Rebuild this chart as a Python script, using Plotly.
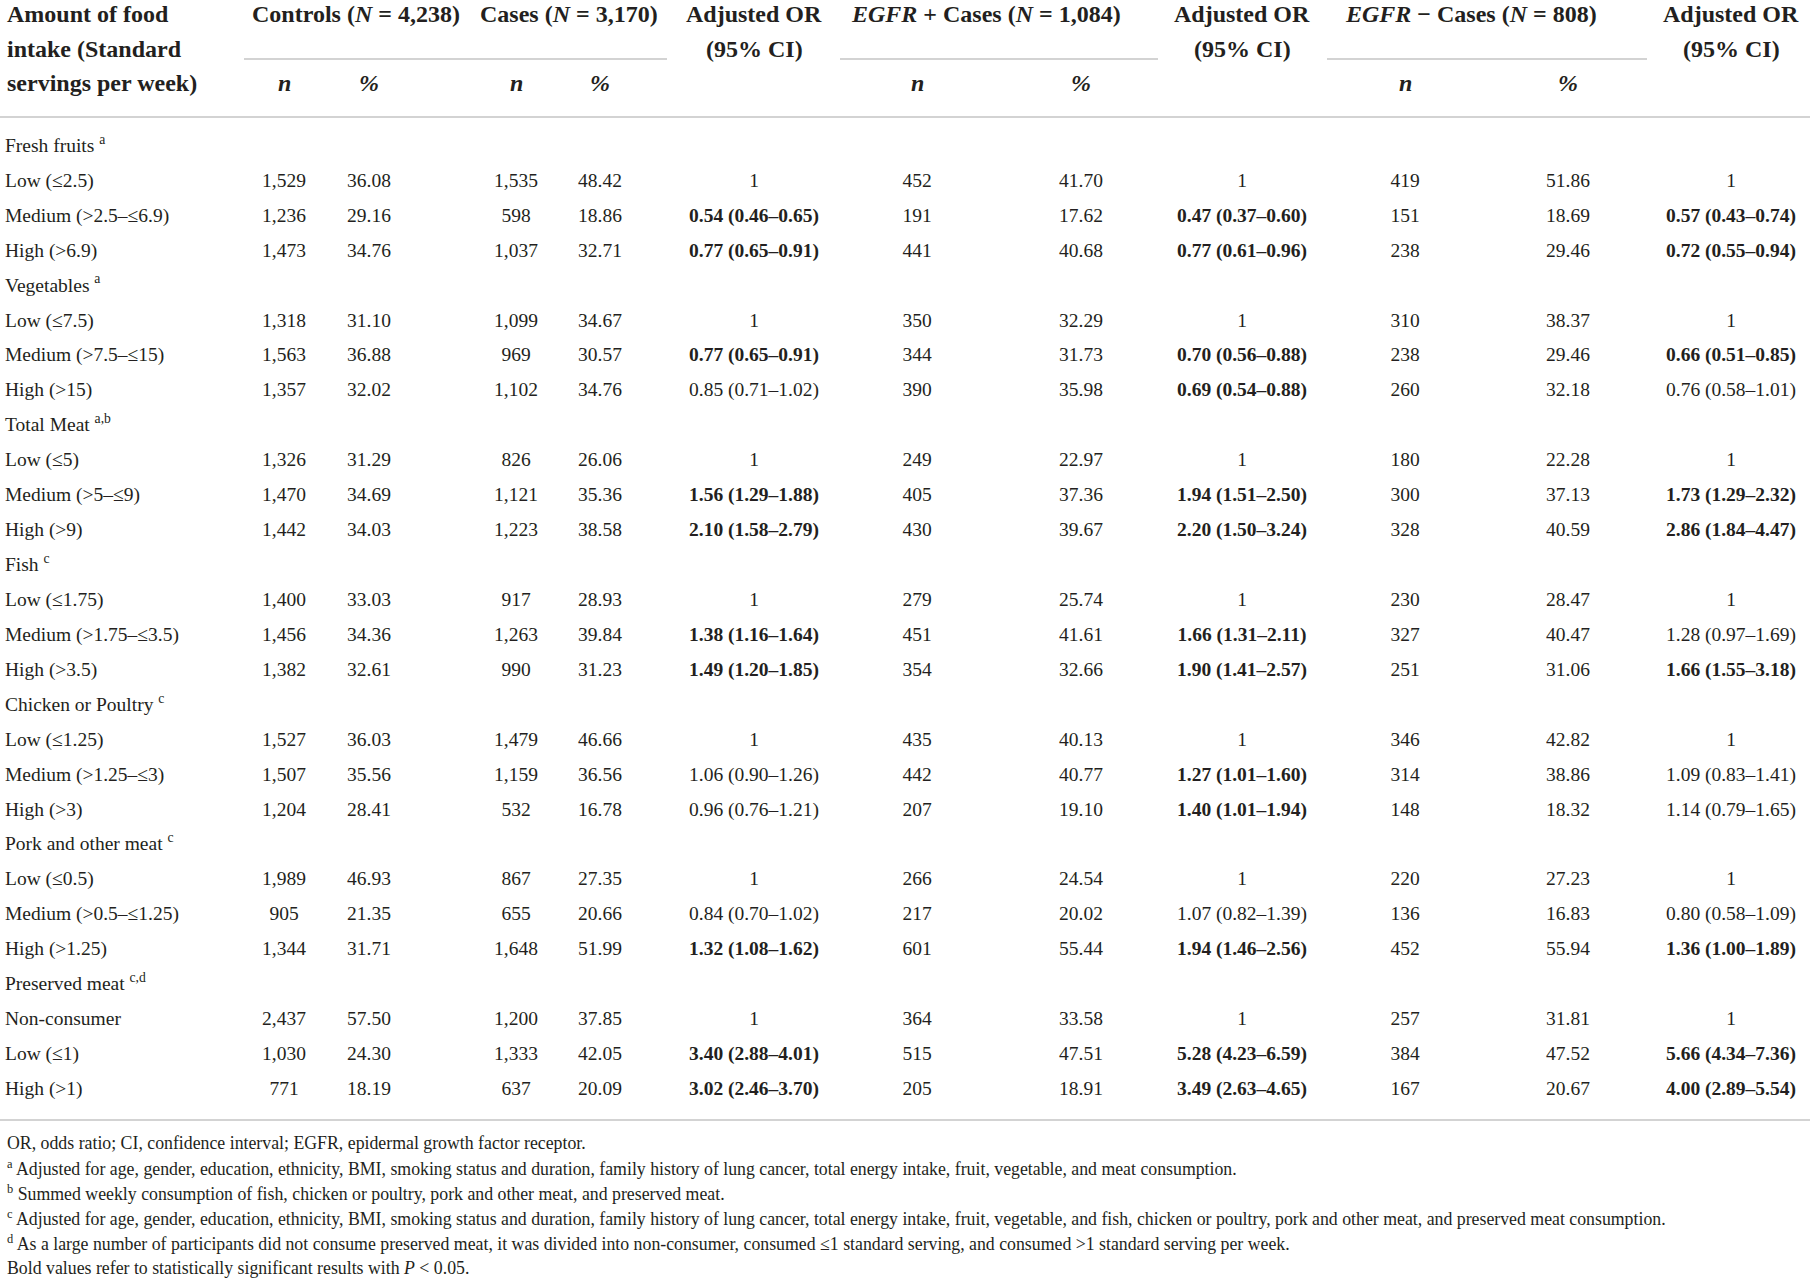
import plotly.graph_objects as go

# ---------------- data ----------------
row_labels = [
    "Fresh fruits <sup>a</sup>", "Low (≤2.5)", "Medium (>2.5–≤6.9)", "High (>6.9)",
    "Vegetables <sup>a</sup>", "Low (≤7.5)", "Medium (>7.5–≤15)", "High (>15)",
    "Total Meat <sup>a,b</sup>", "Low (≤5)", "Medium (>5–≤9)", "High (>9)",
    "Fish <sup>c</sup>", "Low (≤1.75)", "Medium (>1.75–≤3.5)", "High (>3.5)",
    "Chicken or Poultry <sup>c</sup>", "Low (≤1.25)", "Medium (>1.25–≤3)", "High (>3)",
    "Pork and other meat <sup>c</sup>", "Low (≤0.5)", "Medium (>0.5–≤1.25)", "High (>1.25)",
    "Preserved meat <sup>c,d</sup>", "Non-consumer", "Low (≤1)", "High (>1)",
]
# rows that are group titles (no values)
group_rows = [0, 4, 8, 12, 16, 20, 24]

controls_n = ["1,529", "1,236", "1,473", "1,318", "1,563", "1,357", "1,326", "1,470", "1,442",
              "1,400", "1,456", "1,382", "1,527", "1,507", "1,204", "1,989", "905", "1,344",
              "2,437", "1,030", "771"]
controls_pct = ["36.08", "29.16", "34.76", "31.10", "36.88", "32.02", "31.29", "34.69", "34.03",
                "33.03", "34.36", "32.61", "36.03", "35.56", "28.41", "46.93", "21.35", "31.71",
                "57.50", "24.30", "18.19"]
cases_n = ["1,535", "598", "1,037", "1,099", "969", "1,102", "826", "1,121", "1,223",
           "917", "1,263", "990", "1,479", "1,159", "532", "867", "655", "1,648",
           "1,200", "1,333", "637"]
cases_pct = ["48.42", "18.86", "32.71", "34.67", "30.57", "34.76", "26.06", "35.36", "38.58",
             "28.93", "39.84", "31.23", "46.66", "36.56", "16.78", "27.35", "20.66", "51.99",
             "37.85", "42.05", "20.09"]
or_all = ["1", "0.54 (0.46–0.65)", "0.77 (0.65–0.91)", "1", "0.77 (0.65–0.91)", "0.85 (0.71–1.02)",
          "1", "1.56 (1.29–1.88)", "2.10 (1.58–2.79)", "1", "1.38 (1.16–1.64)", "1.49 (1.20–1.85)",
          "1", "1.06 (0.90–1.26)", "0.96 (0.76–1.21)", "1", "0.84 (0.70–1.02)", "1.32 (1.08–1.62)",
          "1", "3.40 (2.88–4.01)", "3.02 (2.46–3.70)"]
sig_all = [0, 1, 1, 0, 1, 0, 0, 1, 1, 0, 1, 1, 0, 0, 0, 0, 0, 1, 0, 1, 1]

egfrp_n = ["452", "191", "441", "350", "344", "390", "249", "405", "430", "279", "451", "354",
           "435", "442", "207", "266", "217", "601", "364", "515", "205"]
egfrp_pct = ["41.70", "17.62", "40.68", "32.29", "31.73", "35.98", "22.97", "37.36", "39.67",
             "25.74", "41.61", "32.66", "40.13", "40.77", "19.10", "24.54", "20.02", "55.44",
             "33.58", "47.51", "18.91"]
or_egfrp = ["1", "0.47 (0.37–0.60)", "0.77 (0.61–0.96)", "1", "0.70 (0.56–0.88)", "0.69 (0.54–0.88)",
            "1", "1.94 (1.51–2.50)", "2.20 (1.50–3.24)", "1", "1.66 (1.31–2.11)", "1.90 (1.41–2.57)",
            "1", "1.27 (1.01–1.60)", "1.40 (1.01–1.94)", "1", "1.07 (0.82–1.39)", "1.94 (1.46–2.56)",
            "1", "5.28 (4.23–6.59)", "3.49 (2.63–4.65)"]
sig_egfrp = [0, 1, 1, 0, 1, 1, 0, 1, 1, 0, 1, 1, 0, 1, 1, 0, 0, 1, 0, 1, 1]

egfrn_n = ["419", "151", "238", "310", "238", "260", "180", "300", "328", "230", "327", "251",
           "346", "314", "148", "220", "136", "452", "257", "384", "167"]
egfrn_pct = ["51.86", "18.69", "29.46", "38.37", "29.46", "32.18", "22.28", "37.13", "40.59",
             "28.47", "40.47", "31.06", "42.82", "38.86", "18.32", "27.23", "16.83", "55.94",
             "31.81", "47.52", "20.67"]
or_egfrn = ["1", "0.57 (0.43–0.74)", "0.72 (0.55–0.94)", "1", "0.66 (0.51–0.85)", "0.76 (0.58–1.01)",
            "1", "1.73 (1.29–2.32)", "2.86 (1.84–4.47)", "1", "1.28 (0.97–1.69)", "1.66 (1.55–3.18)",
            "1", "1.09 (0.83–1.41)", "1.14 (0.79–1.65)", "1", "0.80 (0.58–1.09)", "1.36 (1.00–1.89)",
            "1", "5.66 (4.34–7.36)", "4.00 (2.89–5.54)"]
sig_egfrn = [0, 1, 1, 0, 1, 0, 0, 1, 1, 0, 0, 1, 0, 0, 0, 0, 0, 1, 0, 1, 1]

header_label = ["Amount of food", "intake (Standard", "servings per week)"]
group_headers = ["Controls (<i>N</i> = 4,238)", "Cases (<i>N</i> = 3,170)",
                 "<i>EGFR</i> + Cases (<i>N</i> = 1,084)", "<i>EGFR</i> − Cases (<i>N</i> = 808)"]
or_header = ["Adjusted OR", "(95% CI)"]

footnotes = [
    "OR, odds ratio; CI, confidence interval; EGFR, epidermal growth factor receptor.",
    "<sup>a</sup> Adjusted for age, gender, education, ethnicity, BMI, smoking status and duration, family history of lung cancer, total energy intake, fruit, vegetable, and meat consumption.",
    "<sup>b</sup> Summed weekly consumption of fish, chicken or poultry, pork and other meat, and preserved meat.",
    "<sup>c</sup> Adjusted for age, gender, education, ethnicity, BMI, smoking status and duration, family history of lung cancer, total energy intake, fruit, vegetable, and fish, chicken or poultry, pork and other meat, and preserved meat consumption.",
    "<sup>d</sup> As a large number of participants did not consume preserved meat, it was divided into non-consumer, consumed ≤1 standard serving, and consumed >1 standard serving per week.",
    "Bold values refer to statistically significant results with <i>P</i> < 0.05.",
]

# ---------------- layout constants ----------------
W, H = 1814, 1281
FONT = "Liberation Serif"
COLOR = "#231f20"
LINE = "#c4c4c4"
BODY_SIZE = 19.5
HEAD_SIZE = 24
FOOT_SIZE = 17.8

ROW0_PX = 147.0     # pixel centre of first row
ROW_STEP = 34.93    # pixel distance between rows

col_x = {
    "label": 5, "c_n": 284, "c_p": 369, "k_n": 516, "k_p": 600, "or1": 754,
    "p_n": 917, "p_p": 1081, "or2": 1242, "m_n": 1405, "m_p": 1568, "or3": 1731,
}

value_rows = [i for i in range(len(row_labels)) if i not in group_rows]


def bold_if(vals, flags):
    return [f"<b>{v}</b>" if f else v for v, f in zip(vals, flags)]


fig = go.Figure()

# row labels
fig.add_trace(go.Scatter(
    x=[col_x["label"]] * len(row_labels), y=list(range(len(row_labels))),
    text=row_labels, mode="text", textposition="middle right",
    textfont=dict(family=FONT, size=BODY_SIZE, color=COLOR), hoverinfo="skip"))

columns = [
    ("c_n", controls_n), ("c_p", controls_pct), ("k_n", cases_n), ("k_p", cases_pct),
    ("or1", bold_if(or_all, sig_all)),
    ("p_n", egfrp_n), ("p_p", egfrp_pct), ("or2", bold_if(or_egfrp, sig_egfrp)),
    ("m_n", egfrn_n), ("m_p", egfrn_pct), ("or3", bold_if(or_egfrn, sig_egfrn)),
]
for key, vals in columns:
    fig.add_trace(go.Scatter(
        x=[col_x[key]] * len(vals), y=value_rows, text=vals,
        mode="text", textposition="middle center",
        textfont=dict(family=FONT, size=BODY_SIZE, color=COLOR), hoverinfo="skip"))


def px(xp):
    return xp / W


def py(yp):
    return 1 - yp / H


ann = []


def add_text(text, x, y, size, anchor="center"):
    ann.append(dict(text=text, x=px(x), y=py(y), xref="paper", yref="paper",
                    xanchor=anchor, yanchor="middle", showarrow=False,
                    font=dict(family=FONT, size=size, color=COLOR)))


# header
head_y = [14, 49, 83]
for t, yy in zip(header_label, head_y):
    add_text(f"<b>{t}</b>", 5, yy, HEAD_SIZE, "left")
for t, xx in zip(group_headers, [356, 569, 986, 1471]):
    add_text(f"<b>{t}</b>", xx, head_y[0], HEAD_SIZE)
for xx in [col_x["or1"], col_x["or2"], col_x["or3"]]:
    add_text(f"<b>{or_header[0]}</b>", xx, head_y[0], HEAD_SIZE)
    add_text(f"<b>{or_header[1]}</b>", xx, head_y[1], HEAD_SIZE)
for key in ["c_n", "k_n", "p_n", "m_n"]:
    add_text("<b><i>n</i></b>", col_x[key], head_y[2], HEAD_SIZE)
for key in ["c_p", "k_p", "p_p", "m_p"]:
    add_text("<b><i>%</i></b>", col_x[key], head_y[2], HEAD_SIZE)

# footnotes
foot_y = [1143, 1168, 1193, 1218, 1243, 1268]
for t, yy in zip(footnotes, foot_y):
    add_text(t, 5, yy, FOOT_SIZE, "left")

shapes = []


def hline(x0, x1, y):
    shapes.append(dict(type="line", xref="paper", yref="paper",
                       x0=px(x0), x1=px(x1), y0=py(y), y1=py(y),
                       line=dict(color=LINE, width=1.5)))


hline(244, 667, 59)
hline(840, 1158, 59)
hline(1327, 1647, 59)
hline(0, 1810, 117)
hline(0, 1810, 1120)

fig.update_layout(
    width=W, height=H, margin=dict(l=0, r=0, t=0, b=0),
    paper_bgcolor="white", plot_bgcolor="white", showlegend=False,
    xaxis=dict(range=[0, W], visible=False, fixedrange=True),
    yaxis=dict(range=[(H - ROW0_PX) / ROW_STEP, -ROW0_PX / ROW_STEP],
               visible=False, fixedrange=True),
    annotations=ann, shapes=shapes,
)

fig.write_html("out.html", config={"displayModeBar": False},
               post_script="document.body.style.margin='0';document.body.style.overflow='hidden';")
